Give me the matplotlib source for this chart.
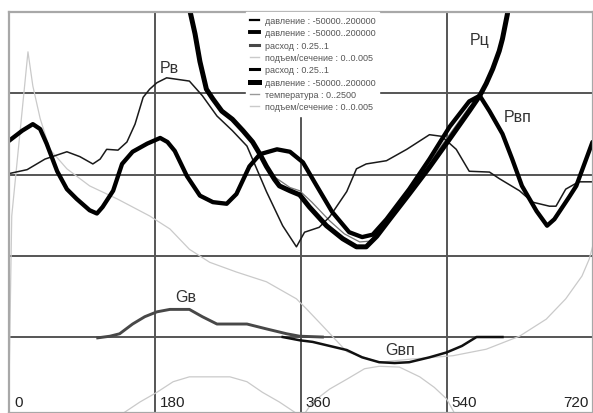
import matplotlib.pyplot as plt
from matplotlib.lines import Line2D

# x: crank angle, deg; y: grid divisions (horizontal gridlines at 1..4)
pv_deg = [0, 23, 45, 72, 88, 104, 113, 121, 135, 146, 156, 166, 174, 183, 195, 223, 239, 257, 276, 294,
          306, 318, 338, 355, 365, 383, 396, 417, 429, 441, 466, 491, 519, 534, 552, 568, 593, 605, 630,
          646, 667, 675, 687, 703, 720]
pv_val = [3.01, 3.06, 3.19, 3.28, 3.22, 3.13, 3.19, 3.31, 3.30, 3.40, 3.62, 3.95, 4.05, 4.13, 4.19, 4.15,
          3.97, 3.72, 3.54, 3.35, 3.07, 2.79, 2.37, 2.11, 2.29, 2.35, 2.48, 2.79, 3.07, 3.13, 3.17, 3.31,
          3.49, 3.47, 3.31, 3.04, 3.03, 2.95, 2.80, 2.66, 2.61, 2.61, 2.82, 2.91, 2.91]

pc_deg = [219, 224, 230, 236, 244, 252, 263, 276, 289, 301, 310, 318, 328, 334, 347, 359, 371, 392, 412,
          429, 441, 454, 470, 494, 519, 544, 568, 581, 589, 597, 605, 609, 615, 618]
pc_val = [5.2, 5.0, 4.73, 4.39, 4.05, 3.93, 3.78, 3.68, 3.54, 3.40, 3.25, 3.10, 2.94, 2.86, 2.80, 2.75,
          2.60, 2.37, 2.21, 2.11, 2.11, 2.24, 2.45, 2.76, 3.09, 3.44, 3.78, 3.97, 4.12, 4.30, 4.52, 4.67,
          4.97, 5.2]

pvp_deg = [0, 17, 30, 39, 47, 60, 72, 84, 100, 109, 116, 129, 140, 153, 171, 187, 196, 205, 220, 236,
           252, 269, 281, 297, 310, 331, 347, 363, 380, 399, 420, 436, 449, 466, 494, 519, 544, 568, 581,
           593, 609, 621, 633, 651, 664, 673, 691, 700, 710, 720]
pvp_val = [3.41, 3.54, 3.62, 3.56, 3.38, 3.04, 2.82, 2.70, 2.56, 2.52, 2.60, 2.80, 3.13, 3.28, 3.38,
           3.45, 3.40, 3.29, 2.98, 2.74, 2.66, 2.64, 2.76, 3.10, 3.25, 3.31, 3.28, 3.15, 2.86, 2.54, 2.29,
           2.23, 2.26, 2.45, 2.82, 3.19, 3.59, 3.90, 3.97, 3.78, 3.50, 3.19, 2.86, 2.55, 2.37, 2.45, 2.72,
           2.86, 3.13, 3.40]

temp_deg = [328, 347, 359, 374, 396, 414, 433, 445, 457, 476, 500, 525, 550, 568, 578]
temp_val = [2.97, 2.84, 2.80, 2.66, 2.43, 2.27, 2.17, 2.18, 2.30, 2.55, 2.88, 3.23, 3.58, 3.83, 3.93]

gv_deg = [110, 125, 137, 153, 168, 183, 199, 223, 239, 257, 294, 318, 343, 359, 387]
gv_val = [0.99, 1.01, 1.04, 1.16, 1.25, 1.31, 1.34, 1.34, 1.25, 1.16, 1.16, 1.10, 1.04, 1.01, 1.00]

gvp_deg = [338, 359, 375, 396, 417, 436, 457, 476, 494, 519, 540, 559, 577, 609]
gvp_val = [1.00, 0.96, 0.94, 0.89, 0.84, 0.75, 0.69, 0.68, 0.69, 0.75, 0.81, 0.89, 1.00, 1.00]

lift1_deg = [0, 4, 24, 30, 39, 51, 72, 100, 134, 174, 199, 223, 248, 281, 318, 355, 367, 387, 417, 457,
             498, 548, 589, 630, 663, 687, 707, 716, 720]
lift1_val = [0.0, 2.49, 4.51, 4.09, 3.69, 3.31, 3.07, 2.86, 2.70, 2.49, 2.33, 2.08, 1.92, 1.80, 1.68,
             1.47, 1.35, 1.14, 0.82, 0.69, 0.73, 0.77, 0.85, 1.01, 1.22, 1.47, 1.75, 1.96, 2.11]

lift2_deg = [131, 141, 162, 183, 203, 223, 273, 294, 313, 334, 355, 365]
lift2_val = [-0.07, 0.06, 0.20, 0.32, 0.45, 0.51, 0.51, 0.45, 0.32, 0.20, 0.06, -0.03]

lift3_deg = [359, 375, 396, 417, 439, 457, 482, 507, 525, 540, 550, 556]
lift3_val = [-0.03, 0.20, 0.36, 0.48, 0.61, 0.64, 0.63, 0.51, 0.38, 0.24, 0.06, -0.03]

angle_ticks = [0, 180, 360, 540, 720]

legend_labels = ['давление : -50000..200000', 'давление : -50000..200000', 'расход : 0.25..1',
                 'подъем/сечение : 0..0.005', 'расход : 0.25..1', 'давление : -50000..200000',
                 'температура : 0..2500', 'подъем/сечение : 0..0.005']

curve_labels = ['Pв', 'Pц', 'Pвп', 'Gв', 'Gвп']
curve_label_pos = [(187, 4.26), (569, 4.61), (610, 3.66), (205, 1.44), (464, 0.79)]

LIGHT = '#cacaca'

fig = plt.figure(figsize=(5.93, 4.14), dpi=100)
ax = fig.add_axes([8.5 / 593, 0, 584 / 593, 401 / 414])

ax.plot(lift1_deg, lift1_val, color=LIGHT, lw=0.9)
ax.plot(lift2_deg, lift2_val, color=LIGHT, lw=0.9)
ax.plot(lift3_deg, lift3_val, color=LIGHT, lw=0.9)
ax.plot(gv_deg, gv_val, color='#484848', lw=2.1, solid_joinstyle='round')
ax.plot(gvp_deg, gvp_val, color='#111111', lw=1.8, solid_joinstyle='round')
ax.plot(temp_deg, temp_val, color='#777777', lw=0.9)
ax.plot(pv_deg, pv_val, color='#1a1a1a', lw=1.1)
ax.plot(pvp_deg, pvp_val, color='black', lw=3.1, solid_joinstyle='round', solid_capstyle='round')
ax.plot(pc_deg, pc_val, color='black', lw=3.6, solid_joinstyle='round')

ax.set_xlim(0, 720)
ax.set_ylim(0.065, 5)
ax.set_xticks([180, 360, 540])
ax.set_yticks([1, 2, 3, 4])
ax.tick_params(length=0, labelbottom=False, labelleft=False)
ax.set_axisbelow(True)
ax.grid(color='#555555', lw=1.4)
for s in ax.spines.values():
    s.set_color('#a8a8a8')
    s.set_linewidth(1.6)

narrow = ['Liberation Sans Narrow', 'Liberation Sans', 'DejaVu Sans']
for a in angle_ticks:
    if a == 720:
        ax.annotate(str(a), (a, 0.15), xytext=(-4, 0), textcoords='offset pixels', ha='right',
                    va='baseline', fontsize=11, family=narrow, color='#222222')
    else:
        ax.annotate(str(a), (a, 0.15), xytext=(6 if a == 0 else 5, 0), textcoords='offset pixels',
                    ha='left', va='baseline', fontsize=11, family=narrow, color='#222222')

for lab, (x, y) in zip(curve_labels, curve_label_pos):
    ax.text(x, y, lab, ha='left', va='baseline', fontsize=11.5, family=['Liberation Sans', 'DejaVu Sans'],
            color='#333333')

handles = [Line2D([], [], color='black', lw=1.6),
           Line2D([], [], color='black', lw=2.8),
           Line2D([], [], color='#484848', lw=2.2),
           Line2D([], [], color=LIGHT, lw=1.0),
           Line2D([], [], color='black', lw=2.2),
           Line2D([], [], color='black', lw=3.6),
           Line2D([], [], color='#999999', lw=1.0),
           Line2D([], [], color=LIGHT, lw=1.0)]
leg = ax.legend(handles, legend_labels, loc='upper left', bbox_to_anchor=(246 / 593, 1 - 13 / 414),
                bbox_transform=fig.transFigure, prop={'family': 'Liberation Sans', 'size': 6.5},
                labelcolor='#555555', frameon=True, facecolor='white', edgecolor='white', framealpha=1,
                fancybox=False, borderpad=0.45, borderaxespad=0, handlelength=1.0, handletextpad=0.6,
                labelspacing=0.37)
leg.set_zorder(5)

plt.savefig('out.png', dpi=100)
